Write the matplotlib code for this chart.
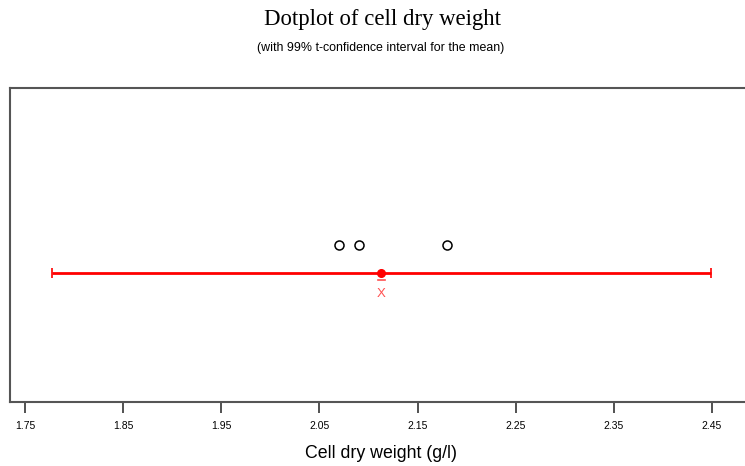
import numpy as np
import matplotlib
matplotlib.use("Agg")
import matplotlib.pyplot as plt

# observed cell dry weights (g/l)
weights = [2.07, 2.09, 2.18]
mean_w = 2.113
ci_low = 1.777
ci_high = 2.449
tick_vals = [1.75, 1.85, 1.95, 2.05, 2.15, 2.25, 2.35, 2.45]

fig = plt.figure(figsize=(7.45, 4.66), dpi=100)
ax = fig.add_axes([10/745, 1-402/466, 1-10/745, 314/466])

red = (1, 0, 0)

# the dots
ax.plot(weights, [0.5]*len(weights), 'o', ms=6.5, mfc='white', mec='black', mew=1.1)

# confidence interval with mean
ax.errorbar([mean_w], [0.411], xerr=[[mean_w-ci_low], [ci_high-mean_w]],
            fmt='o', color=red, ms=5.5, lw=2, capsize=3.5, capthick=1.2, ecolor=red)
# x-bar label under the mean
ax.plot([mean_w-0.0035, mean_w+0.0035], [0.39, 0.39], color='#ff5050', lw=1.2)
ax.text(mean_w, 0.343, 'X', color='#ff5050', ha='center', va='center',
        fontsize=9.5, family='Liberation Sans')

ax.set_xlim(1.7347, 2.4836)
ax.set_ylim(0, 1)
ax.set_yticks([])
ax.set_xticks(tick_vals)
ax.set_xticklabels(["%.2f" % v for v in tick_vals], fontsize=7.5, family='Liberation Sans')
ax.tick_params(axis='x', length=8, width=1.2, color='#333333', pad=6)

for s in ['left', 'top', 'bottom']:
    ax.spines[s].set_color('#555555')
    ax.spines[s].set_linewidth(1.5)
ax.spines['right'].set_visible(False)

ax.set_xlabel('Cell dry weight (g/l)', fontsize=12.8, family='Liberation Sans')
ax.xaxis.set_label_coords(0.5054, -0.137)

fig.text(0.513, 1-20/466, 'Dotplot of cell dry weight', ha='center', va='center',
         fontsize=16.4, family='Liberation Serif')
fig.text(0.511, 1-48/466, '(with 99% t-confidence interval for the mean)', ha='center',
         va='center', fontsize=8.9, family='Liberation Sans')

fig.savefig('out.png', dpi=100)
